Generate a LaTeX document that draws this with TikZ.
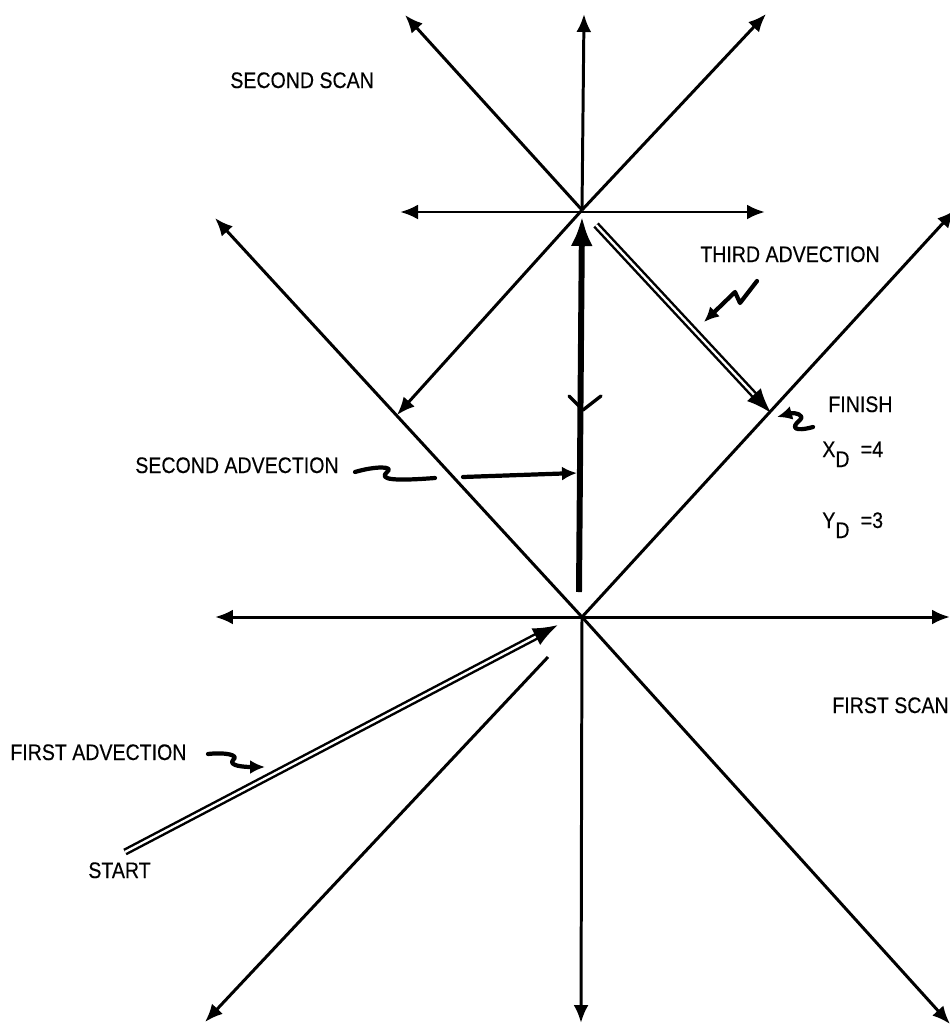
\documentclass[tikz,border=0pt]{standalone}
\usepackage{fontspec}
\setmainfont{Liberation Sans}[FakeStretch=0.87, FakeBold=0.3]
\usepackage{tikz}
\usetikzlibrary{arrows.meta}

\begin{document}
\begin{tikzpicture}[
  x=0.02cm, y=-0.02cm,
  font=\fontsize{12.8}{14}\selectfont,
  axis/.style={{Latex[length=3.6mm,width=3mm]}-{Latex[length=3.6mm,width=3mm]},
    line width=1.7pt},
  ray/.style={-{Latex[length=3.6mm,width=3mm]}, line width=1.7pt},
  advection/.style={double, double distance=1.3pt, line width=1.4pt,
    -{Latex[length=5mm,width=3.8mm]}},
  pointer/.style={-{Latex[length=3mm,width=2.8mm]}, line width=2.4pt,
    line join=round, line cap=round},
  label/.style={anchor=base west, inner sep=0pt}
]
\useasboundingbox (0,0) rectangle (950,1028);

% centres of the two scans
\coordinate (lower) at (582,617);
\coordinate (upper) at (582,210);

% first scan
\coordinate (lowW) at (215,617);
\coordinate (lowE) at (950,617);
\coordinate (lowNW) at (215,218);
\coordinate (lowNE) at (955,210);
\coordinate (lowSE) at (950,1024);
\coordinate (lowS) at (581,1023);
\coordinate (lowSWgap) at (548,657);
\coordinate (lowSW) at (205,1022);
\draw[axis] (lowW) -- (lowE);
\draw[ray] (lower) -- (lowNW);
\draw[ray] (lower) -- (lowNE);
\draw[ray] (lower) -- (lowSE);
\draw[ray] (lower) -- (lowS);
\draw[ray] (lowSWgap) -- (lowSW);

% second scan
\coordinate (upW) at (400,212);
\coordinate (upE) at (765,212);
\coordinate (upNW) at (405,15);
\coordinate (upN) at (584,14);
\coordinate (upNE) at (766,14);
\coordinate (upSW) at (397,415);
\draw[axis] (upW) -- (upE);
\draw[ray] (upper) -- (upNW);
\draw[ray] (upper) -- (upN);
\draw[ray] (upper) -- (upNE);
\draw[ray] (upper) -- (upSW);

% second advection (thick, upward)
\coordinate (secBot) at (579,592);
\coordinate (secTop) at (582,216);
\draw[line width=3.4pt, -{Latex[length=6mm,width=4.4mm]}] (secBot) -- (secTop);
\coordinate (tick) at (583,410);
\draw[line width=1.9pt, line cap=round, line join=round]
  (569,396) -- (tick) -- (601,396);

% first and third advection
\coordinate (start) at (125,852);
\coordinate (firstEnd) at (558,625);
\coordinate (thirdBeg) at (596,225);
\coordinate (finish) at (771,413);
\draw[advection] (start) -- (firstEnd);
\draw[advection] (thirdBeg) -- (finish);

% labels
\node[label] (secondScan) at (230,88) {SECOND SCAN};
\node[label] (thirdAdv) at (700,262) {THIRD ADVECTION};
\node[label] (finishLbl) at (828,412) {FINISH};
\node[label] (xd) at (822,457) {X\raisebox{-0.2cm}{D}\enspace=4};
\node[label] (yd) at (822,528) {Y\raisebox{-0.2cm}{D}\enspace=3};
\node[label] (secondAdv) at (135,473) {SECOND ADVECTION};
\node[label] (firstScan) at (832,713) {FIRST SCAN};
\node[label] (firstAdv) at (10,760) {FIRST ADVECTION};
\node[label] (startLbl) at (88,878) {START};

% hand drawn pointers
\draw[pointer] (757,281) -- (740,303) -- (735,292) -- (704,322);
\draw[pointer] (813,427) .. controls (795,432) and (790,428) .. (800,420)
  .. controls (805,415) and (795,412) .. (777,417);
\draw[pointer, -] (355,472) .. controls (375,466) and (395,466) .. (387,472)
  .. controls (378,480) and (395,481) .. (435,478);
\draw[pointer] (463,477) -- (577,473);
\draw[pointer] (208,754) .. controls (225,752) and (240,755) .. (233,760)
  .. controls (228,766) and (245,767) .. (265,767);
\end{tikzpicture}
\end{document}
